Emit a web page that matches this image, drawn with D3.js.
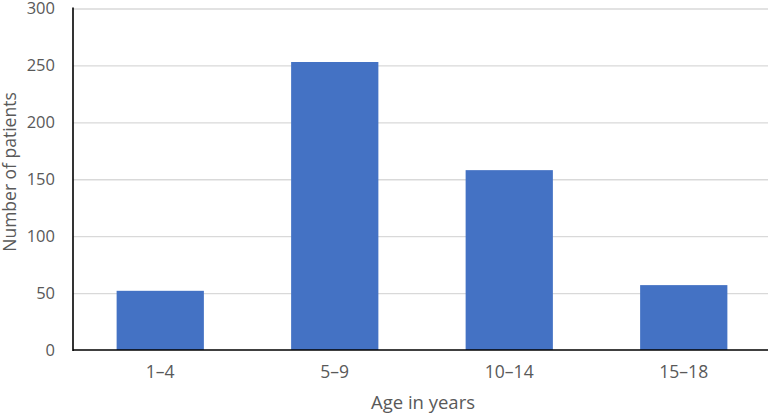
<!DOCTYPE html>
<html>
<head>
<meta charset="utf-8">
<script src="https://d3js.org/d3.v7.min.js"></script>
<style>
  body { margin: 0; background: #fff; }
  text { font-family: "Open Sans", "Noto Sans", sans-serif; fill: #595959; }
  .grid line { stroke: #d9d9d9; stroke-width: 1.3px; }
  .grid path { display: none; }
</style>
</head>
<body>
<script>
var ageGroups = ["1\u20134", "5\u20139", "10\u201314", "15\u201318"];
var patients = [52, 253, 158, 57];
var yTicks = [0, 50, 100, 150, 200, 250, 300];

var W = 771, H = 413;
var plotLeft = 73, plotRight = 771, plotTop = 8.5, plotBottom = 350;

var svg = d3.select("body").append("svg").attr("width", W).attr("height", H);

var x = d3.scaleBand().domain(ageGroups).range([plotLeft, plotRight]).paddingInner(0.5).paddingOuter(0.25);
var y = d3.scaleLinear().domain([0, 300]).range([plotBottom, plotTop]);

// gridlines
svg.append("g").attr("class", "grid")
    .attr("transform", "translate(" + plotLeft + ",0)")
    .call(d3.axisLeft(y).tickValues(yTicks.slice(1)).tickSize(-(plotRight - plotLeft - 3)).tickFormat(""));

// bars
svg.selectAll("rect.bar").data(patients).enter().append("rect")
    .attr("class", "bar")
    .attr("x", function (d, i) { return x(ageGroups[i]); })
    .attr("width", x.bandwidth())
    .attr("y", function (d) { return y(d); })
    .attr("height", function (d) { return y(0) - y(d); })
    .attr("fill", "#4472c4");

// y tick labels
svg.selectAll("text.ytick").data(yTicks).enter().append("text")
    .attr("class", "ytick")
    .attr("x", 55).attr("y", function (d) { return y(d); })
    .attr("dy", "0.35em").attr("text-anchor", "end")
    .style("font-size", "16.5px")
    .text(function (d) { return d; });

// x tick labels
svg.selectAll("text.xtick").data(ageGroups).enter().append("text")
    .attr("class", "xtick")
    .attr("x", function (d) { return x(d) + x.bandwidth() / 2; })
    .attr("y", 372).attr("dy", "0.35em").attr("text-anchor", "middle")
    .style("font-size", "17.5px")
    .text(function (d) { return d; });

// axis lines
svg.append("line").attr("x1", plotLeft).attr("x2", plotLeft).attr("y1", plotTop - 1).attr("y2", plotBottom + 1)
    .attr("stroke", "#000").attr("stroke-width", 1.6);
svg.append("line").attr("x1", plotLeft).attr("x2", plotRight - 3).attr("y1", plotBottom).attr("y2", plotBottom)
    .attr("stroke", "#000").attr("stroke-width", 1.6);

// axis titles
svg.append("text").attr("x", 423).attr("y", 403).attr("dy", "0.35em")
    .attr("text-anchor", "middle").style("font-size", "18.5px").text("Age in years");
svg.append("text").attr("transform", "translate(10,172) rotate(-90)")
    .attr("dy", "0.35em").attr("text-anchor", "middle").style("font-size", "17.5px").text("Number of patients");
</script>
</body>
</html>
